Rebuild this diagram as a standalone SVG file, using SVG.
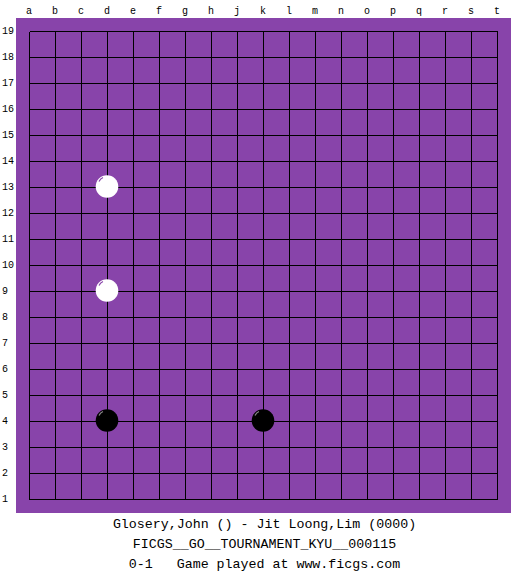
<svg xmlns="http://www.w3.org/2000/svg" width="525" height="575" viewBox="0 0 525 575">
<style>
.lbl{font-family:"Liberation Mono","DejaVu Sans Mono",monospace;font-size:10px;fill:#000}
.cap{font-family:"Liberation Mono","DejaVu Sans Mono",monospace;font-size:13.3px;fill:#000;text-anchor:middle}
.grid{stroke:#000;stroke-width:1;fill:none;shape-rendering:crispEdges}
.w{fill:#fff}
.b{fill:#000}
.hw{stroke:#8844aa;stroke-width:1.2;fill:none}
.hb{stroke:#888;stroke-width:1.2;fill:none}
</style>
<rect width="525" height="575" fill="#fff"/>
<rect id="board" x="16" y="18" width="495" height="495" fill="#8844aa"/>
<g id="grid" class="grid">
<path d="M29.5 31.5V499.5M55.5 31.5V499.5M81.5 31.5V499.5M107.5 31.5V499.5M133.5 31.5V499.5M159.5 31.5V499.5M185.5 31.5V499.5M211.5 31.5V499.5M237.5 31.5V499.5M263.5 31.5V499.5M289.5 31.5V499.5M315.5 31.5V499.5M341.5 31.5V499.5M367.5 31.5V499.5M393.5 31.5V499.5M419.5 31.5V499.5M445.5 31.5V499.5M471.5 31.5V499.5M497.5 31.5V499.5"/>
<path d="M29.5 31.5H497.5M29.5 57.5H497.5M29.5 83.5H497.5M29.5 109.5H497.5M29.5 135.5H497.5M29.5 161.5H497.5M29.5 187.5H497.5M29.5 213.5H497.5M29.5 239.5H497.5M29.5 265.5H497.5M29.5 291.5H497.5M29.5 317.5H497.5M29.5 343.5H497.5M29.5 369.5H497.5M29.5 395.5H497.5M29.5 421.5H497.5M29.5 447.5H497.5M29.5 473.5H497.5M29.5 499.5H497.5"/>
</g>
<g id="col-labels" class="lbl" text-anchor="middle">
<text x="29" y="14">a</text><text x="55" y="14">b</text><text x="81" y="14">c</text><text x="107" y="14">d</text><text x="133" y="14">e</text><text x="159" y="14">f</text><text x="185" y="14">g</text><text x="211" y="14">h</text><text x="237" y="14">j</text><text x="263" y="14">k</text><text x="289" y="14">l</text><text x="315" y="14">m</text><text x="341" y="14">n</text><text x="367" y="14">o</text><text x="393" y="14">p</text><text x="419" y="14">q</text><text x="445" y="14">r</text><text x="471" y="14">s</text><text x="497" y="14">t</text>
</g>
<g id="row-labels" class="lbl">
<text x="2" y="34">19</text><text x="2" y="60">18</text><text x="2" y="86">17</text><text x="2" y="112">16</text><text x="2" y="138">15</text><text x="2" y="164">14</text><text x="2" y="190">13</text><text x="2" y="216">12</text><text x="2" y="242">11</text><text x="2" y="268">10</text><text x="2" y="294">9</text><text x="2" y="320">8</text><text x="2" y="346">7</text><text x="2" y="372">6</text><text x="2" y="398">5</text><text x="2" y="424">4</text><text x="2" y="450">3</text><text x="2" y="476">2</text><text x="2" y="502">1</text>
</g>
<g id="stone-d13"><circle class="w" cx="107" cy="186.5" r="11.3"/><path class="hw" d="M99 181.5A8 8 0 0 1 103 177.5"/></g>
<g id="stone-d9"><circle class="w" cx="107" cy="290.5" r="11.3"/><path class="hw" d="M99 285.5A8 8 0 0 1 103 281.5"/></g>
<g id="stone-d4"><circle class="b" cx="107" cy="420.5" r="11.3"/><path class="hb" d="M99 415.5A8 8 0 0 1 103 411.5"/></g>
<g id="stone-k4"><circle class="b" cx="263" cy="420.5" r="11.3"/><path class="hb" d="M255 415.5A8 8 0 0 1 259 411.5"/></g>
<g id="caption">
<text class="cap" x="264.5" y="528">Glosery,John () - Jit Loong,Lim (0000)</text>
<text class="cap" x="264.5" y="548">FICGS__GO__TOURNAMENT_KYU__000115</text>
<text class="cap" x="264.5" y="568" xml:space="preserve">0-1   Game played at www.ficgs.com</text>
</g>
</svg>
